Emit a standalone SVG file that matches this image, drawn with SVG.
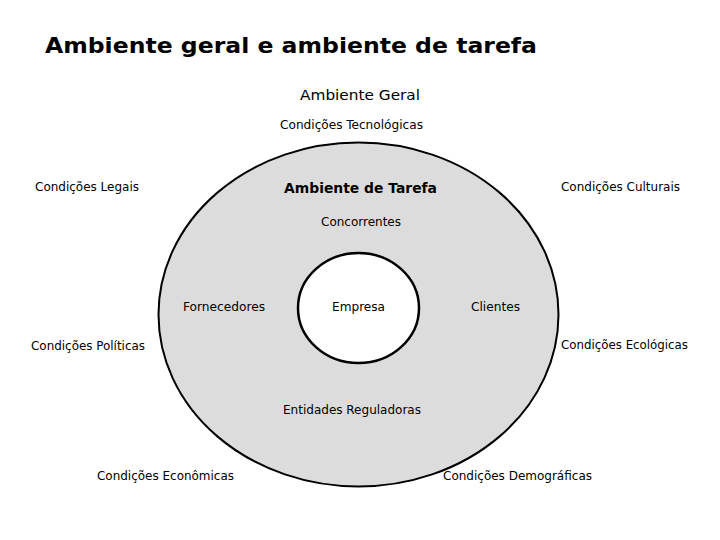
<svg xmlns="http://www.w3.org/2000/svg" width="720" height="540" viewBox="0 0 720 540">
<style>
text{font-family:"DejaVu Sans Condensed","DejaVu Sans",sans-serif;fill:#000}
.t{font-family:"DejaVu Sans","Liberation Sans",sans-serif;font-weight:bold;font-size:22px}
.l{font-size:12.5px}
.h{font-family:"DejaVu Sans",sans-serif;font-size:14px}
.b{font-family:"DejaVu Sans",sans-serif;font-size:14px;font-weight:bold}
</style>
<rect width="720" height="540" fill="#fff"/>
<text class="t" x="45" y="53" textLength="492" lengthAdjust="spacingAndGlyphs">Ambiente geral e ambiente de tarefa</text>
<g id="ambiente-geral">
<text class="h" x="300" y="100" textLength="120" lengthAdjust="spacingAndGlyphs">Ambiente Geral</text>
<text class="l" x="280" y="129" textLength="143" lengthAdjust="spacingAndGlyphs">Condições Tecnológicas</text>
<text class="l" x="35" y="191" textLength="104" lengthAdjust="spacingAndGlyphs">Condições Legais</text>
<text class="l" x="561" y="191" textLength="119" lengthAdjust="spacingAndGlyphs">Condições Culturais</text>
<text class="l" x="31" y="350" textLength="114" lengthAdjust="spacingAndGlyphs">Condições Políticas</text>
<text class="l" x="561" y="349" textLength="127" lengthAdjust="spacingAndGlyphs">Condições Ecológicas</text>
<text class="l" x="97" y="480" textLength="137" lengthAdjust="spacingAndGlyphs">Condições Econômicas</text>
<text class="l" x="443" y="480" textLength="149" lengthAdjust="spacingAndGlyphs">Condições Demográficas</text>
</g>
<g id="ambiente-tarefa">
<ellipse cx="358.5" cy="314.5" rx="200" ry="172" fill="#dcdcdc" stroke="#000" stroke-width="2"/>
<text class="b" x="284" y="193" textLength="153" lengthAdjust="spacingAndGlyphs">Ambiente de Tarefa</text>
<text class="l" x="321" y="226" textLength="80" lengthAdjust="spacingAndGlyphs">Concorrentes</text>
<text class="l" x="183" y="311" textLength="82" lengthAdjust="spacingAndGlyphs">Fornecedores</text>
<text class="l" x="471" y="311" textLength="49" lengthAdjust="spacingAndGlyphs">Clientes</text>
<text class="l" x="283" y="414" textLength="138" lengthAdjust="spacingAndGlyphs">Entidades Reguladoras</text>
</g>
<g id="empresa">
<ellipse cx="358.5" cy="308" rx="60.5" ry="55" fill="#fff" stroke="#000" stroke-width="2.5"/>
<text class="l" x="332" y="311" textLength="53" lengthAdjust="spacingAndGlyphs">Empresa</text>
</g>
<g id="connectors"/>
</svg>
